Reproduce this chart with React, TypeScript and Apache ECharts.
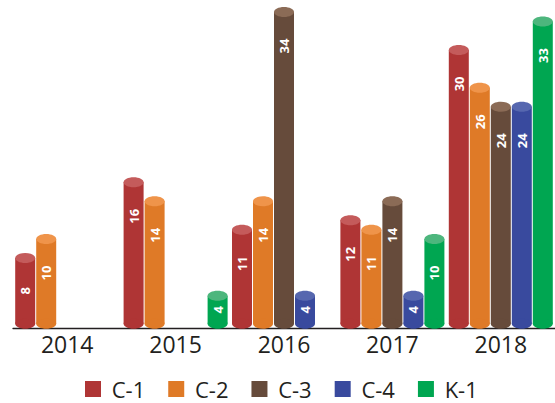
import React, { useEffect, useRef } from "react";
import * as echarts from "echarts";

const years = ["2014", "2015", "2016", "2017", "2018"];
const seriesNames = ["C-1", "C-2", "C-3", "C-4", "K-1"];
const c1 = [8, 16, 11, 12, 30];
const c2 = [10, 14, 14, 11, 26];
const c3 = [null, null, 34, 14, 24];
const c4 = [null, null, 4, 4, 24];
const k1 = [null, 4, null, 10, 33];
const allValues = [c1, c2, c3, c4, k1];

const bodyColors = ["#AF3535", "#DF7A27", "#664B3B", "#394A9E", "#00A651"];
const capColors = ["#C45B5B", "#EF944A", "#8B6B56", "#5667AF", "#4DB67D"];

export default function App() {
  const ref = useRef<HTMLDivElement>(null);
  useEffect(() => {
    if (!ref.current) return;
    const chart = echarts.init(ref.current, undefined, { renderer: "svg" });
    const n = seriesNames.length;
    const series = seriesNames.map((name, s) => ({
      type: "custom",
      name,
      itemStyle: { color: bodyColors[s] },
      data: allValues[s]
        .map((v, i) => (v == null ? null : [i, v]))
        .filter((d) => d !== null),
      encode: { x: 0, y: 1 },
      renderItem: (params: any, api: any) => {
        const ci = api.value(0);
        const v = api.value(1);
        const top = api.coord([ci, v]);
        const base = api.coord([ci, 0])[1];
        const bw = 20;
        const gap = 1;
        const ry = 5;
        const x = top[0] - (n * bw + (n - 1) * gap) / 2 + s * (bw + gap);
        const yTop = top[1];
        const cx = x + bw / 2;
        const labelY = Math.min(yTop + 39, (yTop + base) / 2);
        return {
          type: "group",
          children: [
            {
              type: "rect",
              shape: { x, y: yTop + ry, width: bw, height: base - ry - (yTop + ry) },
              style: { fill: bodyColors[s] },
            },
            {
              type: "ellipse",
              shape: { cx, cy: base - ry, rx: bw / 2, ry },
              style: { fill: bodyColors[s] },
            },
            {
              type: "ellipse",
              shape: { cx, cy: yTop + ry, rx: bw / 2, ry },
              style: { fill: capColors[s] },
            },
            {
              type: "text",
              x: cx,
              y: labelY,
              rotation: Math.PI / 2,
              style: {
                text: String(v),
                fill: "#ffffff",
                font: 'bold 13px "Open Sans"',
                align: "center",
                verticalAlign: "middle",
              },
            },
          ],
        };
      },
    }));
    chart.setOption({
      animation: false,
      grid: { left: 13, width: 545, top: 7.1, bottom: 74.3 },
      xAxis: {
        type: "category",
        data: years,
        axisLine: { lineStyle: { color: "#231f20", width: 1.3 } },
        axisTick: { inside: true, length: 7, lineStyle: { color: "#231f20", width: 1.3 } },
        axisLabel: {
          fontSize: 23,
          color: "#231f20",
          fontFamily: "Open Sans",
          margin: 4,
        },
      },
      yAxis: { type: "value", min: 0, max: 34, show: false },
      legend: {
        data: seriesNames,
        left: 80,
        top: 373,
        padding: [5, 5, 0, 5],
        icon: "rect",
        itemWidth: 16,
        itemHeight: 16,
        itemGap: 23,
        formatter: (name: string) => " " + name,
        textStyle: {
          fontSize: 22,
          lineHeight: 22,
          color: "#231f20",
          fontFamily: "Open Sans",
        },
      },
      series,
    });
    return () => chart.dispose();
  }, []);
  return (
    <div
      ref={ref}
      style={{ position: "absolute", left: 0, top: 0, width: 555, height: 403 }}
    />
  );
}
